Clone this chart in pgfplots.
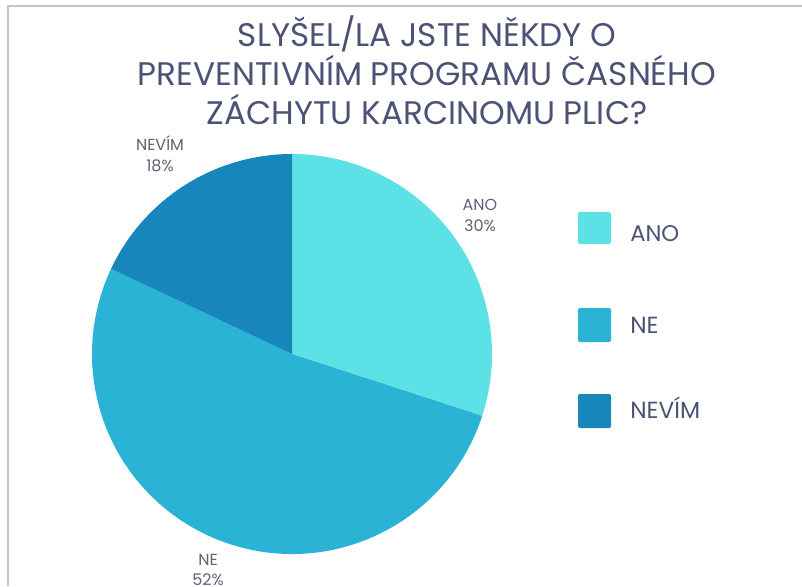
\documentclass[border=0pt]{standalone}
\usepackage{pgfplots}
\usepackage{pgfplotstable}
\pgfplotsset{compat=1.18}
\usepackage{fontspec}
\setmainfont{Poppins}
\definecolor{cano}{HTML}{5CE1E6}
\definecolor{cne}{HTML}{2BB3D5}
\definecolor{cnevim}{HTML}{1786BA}
\definecolor{ctitle}{HTML}{4C5275}
\definecolor{clabel}{HTML}{5E6275}
\definecolor{cframe}{HTML}{C4C4C4}
\pgfplotstableread{
label value
ANO 30
NE 52
NEVIM 18
}\piedata
\begin{document}
\begin{tikzpicture}
\pgfplotstablegetelem{0}{value}\of\piedata \pgfmathsetmacro{\va}{\pgfplotsretval}
\pgfplotstablegetelem{1}{value}\of\piedata \pgfmathsetmacro{\vb}{\pgfplotsretval}
\pgfplotstablegetelem{2}{value}\of\piedata \pgfmathsetmacro{\vc}{\pgfplotsretval}
\pgfmathsetmacro{\aA}{90}
\pgfmathsetmacro{\aB}{90-3.6*\va}
\pgfmathsetmacro{\aC}{\aB-3.6*\vb}
\pgfmathsetmacro{\aD}{\aC-3.6*\vc}
\begin{axis}[x=0.75pt,y=0.75pt,xmin=0,xmax=802,ymin=0,ymax=586,
  axis lines=none,ticks=none,clip=false]
\coordinate (BL) at (axis cs:0,0);
\coordinate (TR) at (axis cs:802,586);
% frame
\draw[cframe,line width=1.5pt] (axis cs:7.5,0) -- (axis cs:7.5,579.5) -- (axis cs:802,579.5);
% pie
\fill[cano] (axis cs:292,232) -- ++(\aA:150pt) arc[start angle=\aA,end angle=\aB,radius=150pt] -- cycle;
\fill[cne] (axis cs:292,232) -- ++(\aB:150pt) arc[start angle=\aB,end angle=\aC,radius=150pt] -- cycle;
\fill[cnevim] (axis cs:292,232) -- ++(\aC:150pt) arc[start angle=\aC,end angle=\aD,radius=150pt] -- cycle;
% title
\begin{scope}[every node/.style={text=ctitle,font=\fontsize{24.5}{28}\selectfont,anchor=base,inner sep=0pt}]
\node at (axis cs:427,539) {SLYŠEL/LA JSTE NĚKDY O};
\node at (axis cs:427,500) {PREVENTIVNÍM PROGRAMU ČASNÉHO};
\node at (axis cs:427,461) {ZÁCHYTU KARCINOMU PLIC?};
\end{scope}
% data labels
\begin{scope}[every node/.style={text=clabel,font=\fontsize{12}{14}\selectfont,anchor=base,inner sep=0pt}]
\node at (axis cs:480,375) {ANO};
\node at (axis cs:480,354) {30\%};
\node at (axis cs:160,435) {NEVÍM};
\node at (axis cs:160,414) {18\%};
\node at (axis cs:208,21) {NE};
\node at (axis cs:208,1) {52\%};
\end{scope}
% legend
\fill[cano,rounded corners=1.5pt] (axis cs:578,342) rectangle (axis cs:611,374);
\fill[cne,rounded corners=1.5pt] (axis cs:578,244) rectangle (axis cs:611,278);
\fill[cnevim,rounded corners=1.5pt] (axis cs:578,158) rectangle (axis cs:611,192);
\begin{scope}[every node/.style={text=ctitle,font=\fontsize{17.5}{18}\selectfont,anchor=base west,inner sep=0pt}]
\node at (axis cs:630,344) {\fontsize{17}{18}\selectfont ANO};
\node at (axis cs:630,253) {NE};
\node at (axis cs:630,168) {NEVÍM};
\end{scope}
\end{axis}
\pgfresetboundingbox
\useasboundingbox (BL) rectangle (TR);
\end{tikzpicture}
\end{document}
